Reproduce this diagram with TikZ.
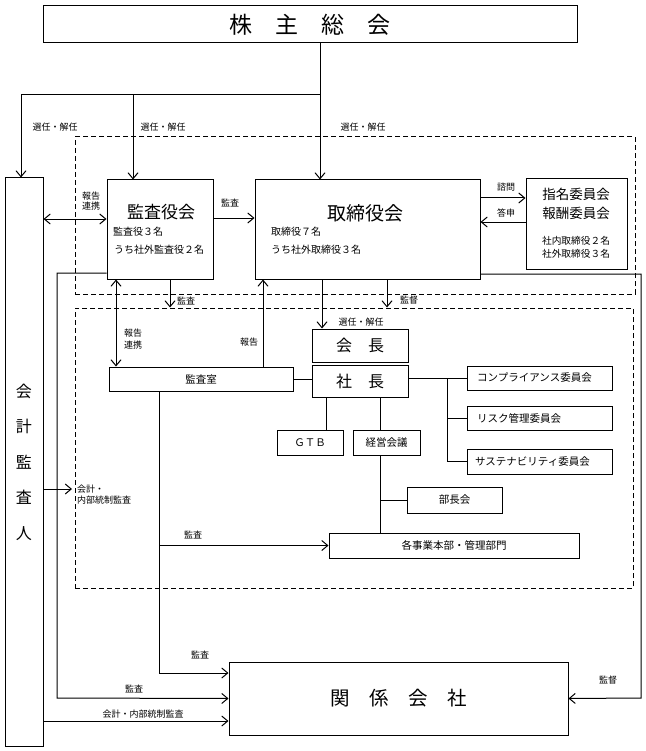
\documentclass[tikz,border=0pt]{standalone}
\usepackage{fontspec}
\setmainfont{Noto Sans CJK JP}
\usetikzlibrary{arrows.meta}
\tikzset{
  box/.style={draw, line width=1pt, inner sep=0pt},
  dbox/.style={draw, line width=1pt, dash pattern=on 5pt off 3pt, inner sep=0pt},
  conn/.style={line width=1pt},
  arr/.style={line width=1pt, -{Straight Barb[length=6pt,width=10pt]}},
  darr/.style={line width=1pt, {Straight Barb[length=6pt,width=10pt]}-{Straight Barb[length=6pt,width=10pt]}},
  lab/.style={font=\fontsize{9}{11}\selectfont, inner sep=0pt},
  btxt/.style={font=\fontsize{10.5}{12}\selectfont},
}
\begin{document}
\begin{tikzpicture}[x=1pt,y=-1pt]
\useasboundingbox (0,0) rectangle (645,751);
% dashed groups
\node[dbox, minimum width=560pt, minimum height=157pt] (dash1) at (355,215.5) {};
\node[dbox, minimum width=558pt, minimum height=280pt] (dash2) at (354,448) {};
% boxes
\node[box, minimum width=534pt, minimum height=37pt, font=\fontsize{23}{26}\selectfont] (soukai) at (310,24.5) {株　主　総　会};
\node[box, minimum width=38pt, minimum height=568pt, align=center, font=\fontsize{16}{35.5}\selectfont] (kaikei) at (24,462) {会\\計\\監\\査\\人};
\node[box, minimum width=106pt, minimum height=99pt] (kansa) at (160,229.5) {};
\node[box, minimum width=225pt, minimum height=99pt] (tori) at (367.5,229.5) {};
\node[box, minimum width=101pt, minimum height=90pt] (shimei) at (576.5,224) {};
\node[box, minimum width=184pt, minimum height=24pt, btxt] (kanshitsu) at (201,379) {監査室};
\node[box, minimum width=96pt, minimum height=33pt, font=\fontsize{16}{18}\selectfont] (kaichou) at (360,345.5) {会　長};
\node[box, minimum width=96pt, minimum height=32pt, font=\fontsize{16}{18}\selectfont] (shachou) at (360,381) {社　長};
\node[box, minimum width=145pt, minimum height=24pt] (comp) at (539.5,378) {};
\node[box, minimum width=145pt, minimum height=24pt] (risk) at (539.5,418) {};
\node[box, minimum width=145pt, minimum height=25pt] (sus) at (539.5,461.5) {};
\node[box, minimum width=66pt, minimum height=25pt, btxt] (gtb) at (310,442.5) {ＧＴＢ};
\node[box, minimum width=67pt, minimum height=25pt, btxt] (keiei) at (386.5,442.5) {経営会議};
\node[box, minimum width=95pt, minimum height=26pt, btxt] (buchou) at (454.5,500) {部長会};
\node[box, minimum width=250pt, minimum height=25pt, btxt] (jigyou) at (454,545.5) {各事業本部・管理部門};
\node[box, minimum width=339pt, minimum height=73pt, font=\fontsize{19.5}{22}\selectfont] (kankei) at (398.5,698.5) {関　係　会　社};
% texts inside boxes
\node[font=\fontsize{17}{19}\selectfont, inner sep=0pt] (t1) at (161,212) {監査役会};
\node[font=\fontsize{10}{12}\selectfont, inner sep=0pt, anchor=west] (t2) at (113,232) {監査役３名};
\node[font=\fontsize{10}{12}\selectfont, inner sep=0pt, anchor=west] (t3) at (114,250) {うち社外監査役２名};
\node[font=\fontsize{19}{21}\selectfont, inner sep=0pt] (t4) at (365,213) {取締役会};
\node[font=\fontsize{10}{12}\selectfont, inner sep=0pt, anchor=west] (t5) at (271,232) {取締役７名};
\node[font=\fontsize{10}{12}\selectfont, inner sep=0pt, anchor=west] (t6) at (271,250) {うち社外取締役３名};
\node[font=\fontsize{13.5}{15}\selectfont, inner sep=0pt] (t7) at (576,194) {指名委員会};
\node[font=\fontsize{13.5}{15}\selectfont, inner sep=0pt] (t8) at (576,213) {報酬委員会};
\node[font=\fontsize{9.7}{12}\selectfont, inner sep=0pt] (t9) at (576,241) {社内取締役２名};
\node[font=\fontsize{9.7}{12}\selectfont, inner sep=0pt] (t10) at (576,254) {社外取締役３名};
\node[btxt, inner sep=0pt, anchor=west] (t11) at (477,378) {コンプライアンス委員会};
\node[btxt, inner sep=0pt, anchor=west] (t12) at (477,418) {リスク管理委員会};
\node[btxt, inner sep=0pt, anchor=west] (t13) at (475,461.5) {サステナビリティ委員会};
% coordinates
\coordinate (j0) at (320,95);
\coordinate (c1) at (21,95);
\coordinate (c2) at (133,95);
\coordinate (k57) at (57,698);
\coordinate (k641) at (641,698);
\coordinate (xr) at (263,0);
\coordinate (xk) at (322,0);
\coordinate (xm) at (387,0);
\coordinate (xb) at (447,0);
\coordinate (xg) at (326,0);
\coordinate (xe) at (380,0);
\coordinate (k159) at (159,673);
\coordinate (a72) at (72,489);
\coordinate (y721) at (0,721);
% connectors from 株主総会
\draw[arr] (soukai.south -| j0) -- (tori.north -| j0);
\draw[arr] (j0) -- (c1) -- (c1 |- kaikei.north);
\draw[arr] (c2) -- (c2 |- kansa.north);
\node[lab] (l1) at (55,127) {選任・解任};
\node[lab] (l2) at (163,127) {選任・解任};
\node[lab] (l3) at (363,127) {選任・解任};
% 会計監査人 <-> 監査役会
\draw[darr] ([yshift=10.5pt]kansa.west -| kaikei.east) -- ([yshift=10.5pt]kansa.west);
\node[lab, align=left, font=\fontsize{9}{10.5}\selectfont] (l4) at (91,201) {報告\\連携};
% 監査役会 -> 取締役会
\draw[arr] ([yshift=11.5pt]kansa.east) -- ([yshift=11.5pt]kansa.east -| tori.west);
\node[lab] (l5) at (230,203) {監査};
% 諮問 / 答申
\draw[arr] ([yshift=31.5pt]tori.east) -- ([yshift=31.5pt]tori.east -| shimei.west);
\draw[arr] ([yshift=7.5pt]tori.east -| shimei.west) -- ([yshift=7.5pt]tori.east);
\node[lab] (l6) at (506,187) {諮問};
\node[lab] (l7) at (506,213) {答申};
% 監査役会 left -> 関係会社
\draw[arr] ([yshift=-43.5pt]kansa.west) -| (k57) -- (kankei.west);
\node[lab] (l8) at (134,689) {監査};
% 監査役会 -> group
\draw[arr] ([xshift=10pt]kansa.south) -- ([xshift=10pt]kansa.south |- dash2.north);
\node[lab] (l9) at (186,301) {監査};
% 監査役会 <-> 監査室
\draw[darr] ([xshift=-44pt]kansa.south) -- ([xshift=-44pt]kansa.south |- kanshitsu.north);
\node[lab, align=left, font=\fontsize{9}{11.5}\selectfont] (l10) at (133,339) {報告\\連携};
% 監査室 -> 取締役会
\draw[arr] (kanshitsu.north -| xr) -- (tori.south -| xr);
\node[lab] (l11) at (249,342) {報告};
% 取締役会 -> 会長
\draw[arr] (tori.south -| xk) -- (kaichou.north -| xk);
\node[lab] (l12) at (361,322) {選任・解任};
% 取締役会 -> group
\draw[arr] (tori.south -| xm) -- (dash2.north -| xm);
\node[lab] (l13) at (409,300) {監督};
% 取締役会 right -> 関係会社
\draw[arr] ([yshift=-44.5pt]tori.east) -| (k641) -- (kankei.east);
\node[lab] (l14) at (608,680) {監督};
% 監査室 - 社長
\draw[conn] (kanshitsu.east) -- (kanshitsu.east -| shachou.west);
% 社長 -> committees
\draw[conn] (shachou.east |- comp.west) -- (comp.west);
\draw[conn] (xb |- comp.west) -- (xb |- sus.west) -- (sus.west);
\draw[conn] (xb |- risk.west) -- (risk.west);
% 社長 -> GTB, 経営会議
\draw[conn] (shachou.south -| xg) -- (gtb.north -| xg);
\draw[conn] (shachou.south -| xe) -- (keiei.north -| xe);
\draw[conn] (keiei.south -| xe) -- (jigyou.north -| xe);
\draw[conn] (xe |- buchou.west) -- (buchou.west);
% 監査室 -> 各事業本部, 関係会社
\draw[arr] (kanshitsu.south -| k159) -- (k159) -- (k159 -| kankei.west);
\draw[arr] (k159 |- jigyou.west) -- (jigyou.west);
\node[lab] (l15) at (193,535) {監査};
\node[lab] (l16) at (200,655) {監査};
% 会計監査人 -> group
\draw[arr] (a72 -| kaikei.east) -- (a72);
\node[lab, align=left, anchor=north west, font=\fontsize{9}{11}\selectfont] (l17) at (77,485) {会計・\\内部統制監査};
% 会計監査人 -> 関係会社
\draw[arr] (kaikei.east |- y721) -- (kankei.west |- y721);
\node[lab] (l18) at (143,714) {会計・内部統制監査};
\end{tikzpicture}
\end{document}
